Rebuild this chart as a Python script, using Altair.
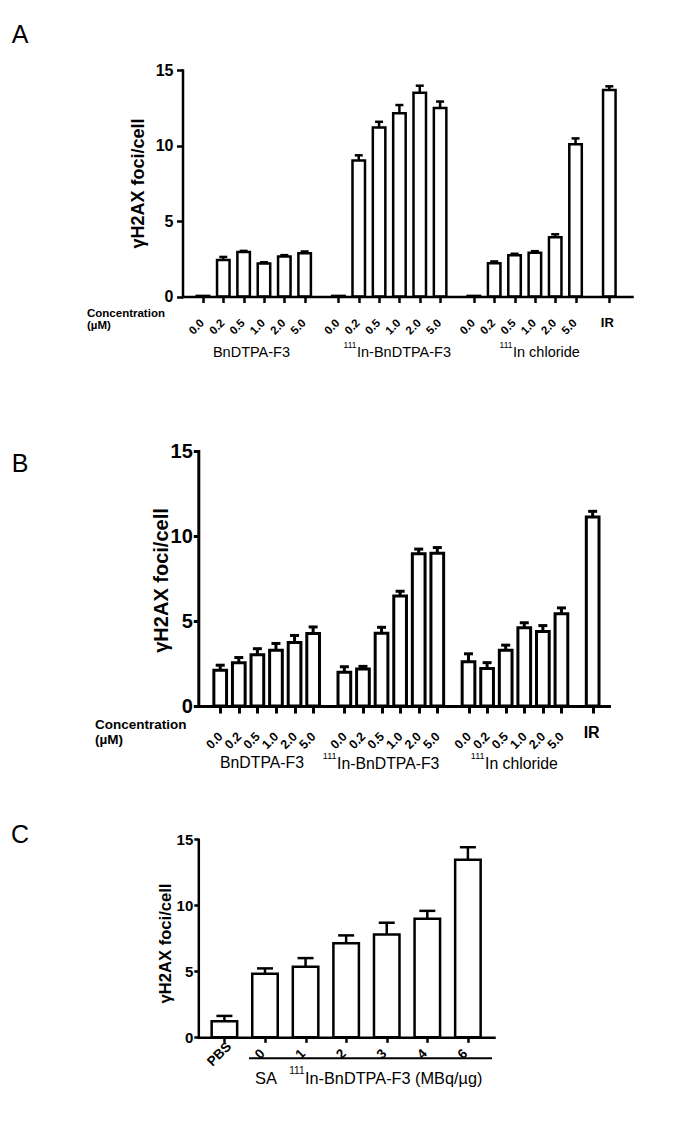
import altair as alt
import pandas as pd

FONT = "Liberation Sans"

# ---------------- data ----------------
conc_labels = ["0.0", "0.2", "0.5", "1.0", "2.0", "5.0"]

# Panel A
a_bn = [0.04, 2.41, 2.94, 2.19, 2.65, 2.87]
a_bn_err = [0, 0.21, 0.08, 0.08, 0.09, 0.11]
a_in = [0.04, 9.0, 11.2, 12.14, 13.49, 12.49]
a_in_err = [0, 0.35, 0.37, 0.54, 0.47, 0.42]
a_cl = [0.04, 2.21, 2.74, 2.9, 3.92, 10.09]
a_cl_err = [0, 0.11, 0.09, 0.1, 0.2, 0.38]
a_ir = 13.67
a_ir_err = 0.25

# Panel B
b_bn = [2.1, 2.55, 3.02, 3.28, 3.73, 4.27]
b_bn_err = [0.3, 0.3, 0.35, 0.4, 0.42, 0.38]
b_in = [1.98, 2.17, 4.28, 6.47, 8.96, 8.99]
b_in_err = [0.33, 0.16, 0.35, 0.28, 0.27, 0.33]
b_cl = [2.6, 2.2, 3.28, 4.6, 4.38, 5.42]
b_cl_err = [0.47, 0.35, 0.3, 0.3, 0.35, 0.35]
b_ir = 11.12
b_ir_err = 0.33

# Panel C
c_labels = ["PBS", "0", "1", "2", "3", "4", "6"]
c_vals = [1.22, 4.82, 5.35, 7.12, 7.78, 8.98, 13.45]
c_err = [0.4, 0.4, 0.65, 0.6, 0.9, 0.6, 0.95]

ytitle = "γH2AX foci/cell"

one = pd.DataFrame({"k": [0]})

# page layout (whole page drawn in one plot area starting at the 8px margin)
OX, OY = 8, 8
TOTAL_W, TOTAL_H = 669, 1106


def grouped(groups, errors, ir, ir_err, pitch):
    rows = []
    for g, (vals, errs) in enumerate(zip(groups, errors)):
        for i, (v, e) in enumerate(zip(vals, errs)):
            rows.append({"pos": g * pitch + i, "val": v, "err": e, "label": conc_labels[i]})
    rows.append({"pos": 3 * pitch, "val": ir, "err": ir_err, "label": "IR"})
    return pd.DataFrame(rows)


def simple(labels, vals, errs):
    return pd.DataFrame({"pos": list(range(len(labels))), "val": vals, "err": errs, "label": labels})


def make_panel(df, P):
    ax, top, right, bottom = P["axis_x"], P["top"], P["right"], P["bottom"]
    lw = P["lw"]
    xs = alt.Scale(domain=P["xdom"], range=[ax - OX, right - OX], nice=False, zero=False)
    ys = alt.Scale(domain=[0, 15], range=[bottom - OY, top - OY], nice=False, zero=True)
    xaxis = alt.Axis(values=[float(v) for v in df["pos"]], labels=False, title=None, grid=False,
                     orient="bottom", offset=-(TOTAL_H - (bottom - OY)),
                     domainColor="black", domainWidth=lw, domainCap="square",
                     tickColor="black", tickWidth=lw, tickSize=P["xtick"], zindex=1)
    yaxis = alt.Axis(values=[0, 5, 10, 15], title=ytitle, grid=False,
                     orient="left", offset=-(ax - OX),
                     domainColor="black", domainWidth=lw, domainCap="square",
                     tickColor="black", tickWidth=lw, tickSize=P["ytick"],
                     labelFont=FONT, labelFontSize=P["ylab"], labelFontWeight="bold",
                     labelColor="black", labelPadding=P["ypad"],
                     titleFont=FONT, titleFontSize=P["ytitle"], titleFontWeight="bold",
                     titleColor="black", titleAngle=270, titleBaseline="middle",
                     titleX=P["title_pos"][0] - ax, titleY=P["title_pos"][1] - OY, zindex=1)
    X = alt.X("pos:Q", scale=xs, axis=xaxis)
    Y = alt.Y("val:Q", scale=ys, axis=yaxis)
    Ytop = alt.Y("top:Q", scale=ys, axis=yaxis)

    base = alt.Chart(df)
    bars = base.mark_bar(fill="white", stroke="black", strokeWidth=lw, size=P["bar"]).encode(x=X, y=Y)
    err = base.transform_filter("datum.err > 0").transform_calculate(top="datum.val + datum.err")
    rule = err.mark_rule(color="black", strokeWidth=lw).encode(x=X, y=Y, y2="top:Q")
    cap = err.mark_tick(color="black", orient="horizontal", size=P["cap"], thickness=lw,
                        opacity=1).encode(x=X, y=Ytop)

    ticklab = base.transform_filter("datum.label != 'IR'").mark_text(
        font=FONT, fontSize=P["xlab"], fontWeight="bold", angle=315, align="center",
        baseline="middle", dx=P["xlab_dx"], color="black").encode(
        x=X, y=alt.value(bottom - OY + P["xlab_dy"]), text="label:N")

    layers = [bars, rule, cap, ticklab]

    if "ir" in P:
        ir_dx, ir_y, ir_size = P["ir"]
        layers.append(base.transform_filter("datum.label == 'IR'").mark_text(
            font=FONT, fontSize=ir_size, fontWeight="bold", align="center",
            baseline="alphabetic", dx=ir_dx, color="black").encode(
            x=X, y=alt.value(ir_y - OY), text="label:N"))

    for (txt, px, py, size, weight, align) in P["texts"]:
        layers.append(alt.Chart(one).mark_text(
            font=FONT, fontSize=size, fontWeight=weight, align=align,
            baseline="alphabetic", color="black").encode(
            x=alt.value(px - OX), y=alt.value(py - OY), text=alt.value(txt)))

    for (x1, x2, yy, w) in P.get("rules", []):
        layers.append(alt.Chart(one).mark_rule(color="black", strokeWidth=w).encode(
            x=alt.value(x1 - OX), x2=alt.value(x2 - OX), y=alt.value(yy - OY)))

    return alt.layer(*layers)


# ---------------- panel A ----------------
A = dict(
    axis_x=182.5, top=70, right=632, bottom=296.5, xdom=[-0.76, 20.85],
    lw=2.5, bar=12.5, cap=8, xtick=6, ytick=6, ylab=16, ypad=3.5,
    ytitle=18, title_pos=(138, 183),
    xlab=11.5, xlab_dx=-8.3, xlab_dy=25,
    ir=(-2, 327, 13),
    texts=[
        ("A", 20, 43, 25, "normal", "center"),
        ("Concentration", 87, 316.5, 11.5, "bold", "left"),
        ("(µM)", 87, 329, 11.5, "bold", "left"),
        ("BnDTPA-F3", 251.5, 357, 14.5, "normal", "center"),
        ("111", 356.5, 348, 8.5, "normal", "right"),
        ("In-BnDTPA-F3", 357, 357, 14.5, "normal", "left"),
        ("111", 512.5, 348, 8.5, "normal", "right"),
        ("In chloride", 513, 357, 14.5, "normal", "left"),
    ],
)
dfA = grouped([a_bn, a_in, a_cl], [a_bn_err, a_in_err, a_cl_err], a_ir, a_ir_err, 6.66)

# ---------------- panel B ----------------
B = dict(
    axis_x=198.3, top=451, right=609, bottom=706, xdom=[-0.91, 20.65],
    lw=3, bar=12.7, cap=9, xtick=7, ytick=5, ylab=20, ypad=1,
    ytitle=20, title_pos=(161, 580),
    xlab=12.5, xlab_dx=-8, xlab_dy=29,
    ir=(-1, 738, 16),
    texts=[
        ("B", 20, 472, 25, "normal", "center"),
        ("Concentration", 95, 729, 13.5, "bold", "left"),
        ("(µM)", 95, 744, 13.5, "bold", "left"),
        ("BnDTPA-F3", 220, 768, 15.8, "normal", "left"),
        ("111", 336.5, 759, 9, "normal", "right"),
        ("In-BnDTPA-F3", 337, 769, 15.8, "normal", "left"),
        ("111", 484.5, 759, 9, "normal", "right"),
        ("In chloride", 485, 769, 15.8, "normal", "left"),
    ],
)
dfB = grouped([b_bn, b_in, b_cl], [b_bn_err, b_in_err, b_cl_err], b_ir, b_ir_err, 6.68)

# ---------------- panel C ----------------
C = dict(
    axis_x=198.3, top=839.3, right=494, bottom=1037.3, xdom=[-0.52, 6.52],
    lw=2.5, bar=25.5, cap=16, xtick=5, ytick=4.5, ylab=15, ypad=1,
    ytitle=16.6, title_pos=(165, 943),
    xlab=13.5, xlab_dx=-7, xlab_dy=12,
    texts=[
        ("C", 20, 843, 25, "normal", "center"),
        ("SA", 255, 1083.5, 16.5, "normal", "left"),
        ("111", 304.5, 1073.5, 10, "normal", "right"),
        ("In-BnDTPA-F3 (MBq/µg)", 305, 1083.5, 16.3, "normal", "left"),
    ],
    rules=[(249, 492, 1058.3, 2)],
)
dfC = simple(c_labels, c_vals, c_err)

chart = alt.layer(
    make_panel(dfA, A), make_panel(dfB, B), make_panel(dfC, C)
).resolve_scale(x="independent", y="independent").resolve_axis(
    x="independent", y="independent"
).properties(
    width=TOTAL_W, height=TOTAL_H, padding=0,
    autosize=alt.AutoSizeParams(type="none"),
).configure_view(strokeWidth=0)

chart.save("out.html", embed_options={"renderer": "svg", "actions": False})
